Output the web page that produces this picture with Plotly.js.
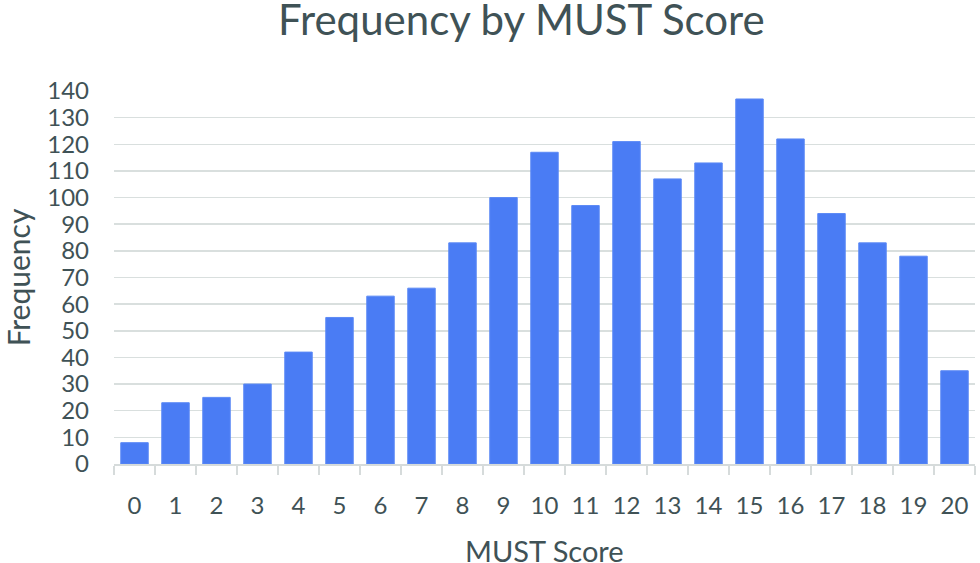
<!DOCTYPE html>
<html>
<head>
<meta charset="utf-8">
<script src="https://cdn.plot.ly/plotly-3.0.1.min.js"></script>
<style>html,body{margin:0;padding:0;background:#fff;}#chart{width:980px;height:563px;}</style>
</head>
<body>
<div id="chart"></div>
<script>
var scores = ["0","1","2","3","4","5","6","7","8","9","10","11","12","13","14","15","16","17","18","19","20"];
var frequency = [8,23,25,30,42,55,63,66,83,100,117,97,121,107,113,137,122,94,83,78,35];
var yTicks = [0,10,20,30,40,50,60,70,80,90,100,110,120,130,140];

var textColor = "#3f5256";
var fontFam = "Lato, 'Open Sans', sans-serif";

var trace = {
  type: "bar",
  x: scores,
  y: frequency,
  marker: {color: "#4a7cf4", line: {color: "#5b89f5", width: 1}},
  hoverinfo: "x+y"
};

var layout = {
  width: 980,
  height: 563,
  margin: {l: 114, r: 5, t: 91, b: 99},
  paper_bgcolor: "#ffffff",
  plot_bgcolor: "#ffffff",
  bargap: 0.33,
  showlegend: false,
  font: {family: fontFam, color: textColor},
  title: {
    text: "Frequency by MUST Score",
    font: {family: fontFam, size: 42, color: textColor},
    x: 0.532, xanchor: "center", xref: "container",
    y: 0.964, yanchor: "middle", yref: "container"
  },
  xaxis: {
    type: "category",
    tickson: "boundaries",
    ticks: "outside",
    ticklen: 9,
    tickwidth: 1.5,
    tickcolor: "#d6dbdb",
    showline: true,
    linecolor: "#d6dbdb",
    linewidth: 1.5,
    showgrid: false,
    tickfont: {family: fontFam, size: 24, color: textColor},
    ticklabelstandoff: 20
  },
  yaxis: {
    range: [0, 140],
    tickvals: yTicks,
    showgrid: true,
    gridcolor: "#d9dfde",
    gridwidth: 1.5,
    zeroline: false,
    showline: false,
    ticks: "",
    tickfont: {family: fontFam, size: 24, color: textColor},
    ticklabelstandoff: 24,
    title: {text: "Frequency", font: {family: fontFam, size: 30, color: textColor}, standoff: 10}
  },
  annotations: [{
    text: "MUST Score",
    xref: "paper", yref: "paper",
    x: 0.5, y: -0.2306,
    xanchor: "center", yanchor: "middle",
    showarrow: false,
    font: {family: fontFam, size: 29, color: textColor}
  }]
};

Plotly.newPlot("chart", [trace], layout, {displayModeBar: false, staticPlot: true});
</script>
</body>
</html>
